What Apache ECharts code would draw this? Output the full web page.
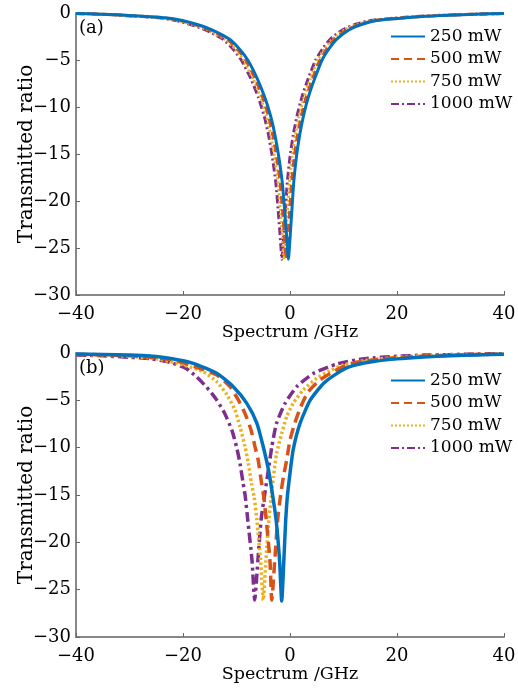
<!DOCTYPE html>
<html>
<head>
<meta charset="utf-8">
<script src="https://cdn.jsdelivr.net/npm/echarts@6/dist/echarts.min.js"></script>
<style>
  html, body { margin: 0; padding: 0; background: #fff; }
  #chart { width: 518px; height: 689px; }
</style>
</head>
<body>
<div id="chart"></div>
<script>
const powerNames = ['250 mW', '500 mW', '750 mW', '1000 mW']

// (a) spectrum [GHz, dB]
const topP250 = [[-40,-0.05],[-35.3,-0.12],[-29.3,-0.28],[-23.3,-0.5],[-20.1,-0.8],[-17.5,-1.2],[-14.6,-1.8],[-11.3,-2.8],[-9.5,-3.8],[-7.9,-5],[-6.1,-7],[-4.7,-9],[-3.6,-11],[-2.8,-13],[-2.1,-15.3],[-1.45,-18],[-1.0,-21],[-0.6,-24],[-0.3,-26.2],[0.0,-24],[0.35,-21],[0.7,-18],[1.2,-15.3],[1.8,-13],[2.5,-11],[3.4,-9],[4.6,-7],[6.0,-5],[7.3,-3.8],[8.7,-2.8],[11.0,-1.8],[13.5,-1.2],[16.2,-0.8],[19.7,-0.6],[24.7,-0.38],[29.7,-0.24],[34.7,-0.13],[40,-0.05]]
const topP500 = [[-40,-0.05],[-35.5,-0.12],[-29.7,-0.28],[-23.7,-0.5],[-20.5,-0.8],[-17.9,-1.2],[-15.0,-1.8],[-11.7,-2.8],[-9.9,-3.8],[-8.3,-5],[-6.5,-7],[-5.1,-9],[-4.0,-11],[-3.2,-13],[-2.5,-15.3],[-1.85,-18],[-1.4,-21],[-1.0,-24],[-0.7,-26.2],[-0.4,-24],[-0.05,-21],[0.3,-18],[0.8,-15.3],[1.4,-13],[2.1,-11],[3.0,-9],[4.2,-7],[5.6,-5],[6.9,-3.8],[8.3,-2.8],[10.6,-1.8],[13.1,-1.2],[15.8,-0.8],[19.3,-0.6],[24.3,-0.38],[29.3,-0.24],[34.5,-0.13],[40,-0.05]]
const topP750 = [[-40,-0.05],[-35.7,-0.12],[-30.1,-0.28],[-24.1,-0.5],[-20.9,-0.8],[-18.3,-1.2],[-15.4,-1.8],[-12.1,-2.8],[-10.3,-3.8],[-8.7,-5],[-6.9,-7],[-5.5,-9],[-4.4,-11],[-3.6,-13],[-2.9,-15.3],[-2.25,-18],[-1.8,-21],[-1.4,-24],[-1.1,-26.2],[-0.8,-24],[-0.45,-21],[-0.1,-18],[0.4,-15.3],[1.0,-13],[1.7,-11],[2.6,-9],[3.8,-7],[5.2,-5],[6.5,-3.8],[7.9,-2.8],[10.2,-1.8],[12.7,-1.2],[15.4,-0.8],[18.9,-0.6],[23.9,-0.38],[28.9,-0.24],[34.3,-0.13],[40,-0.05]]
const topP1000 = [[-40,-0.05],[-35.9,-0.12],[-30.5,-0.28],[-24.5,-0.5],[-21.3,-0.8],[-18.7,-1.2],[-15.8,-1.8],[-12.5,-2.8],[-10.7,-3.8],[-9.1,-5],[-7.3,-7],[-5.9,-9],[-4.8,-11],[-4.0,-13],[-3.3,-15.3],[-2.65,-18],[-2.2,-21],[-1.8,-24],[-1.5,-26.2],[-1.2,-24],[-0.85,-21],[-0.5,-18],[0.0,-15.3],[0.6,-13],[1.3,-11],[2.2,-9],[3.4,-7],[4.8,-5],[6.1,-3.8],[7.5,-2.8],[9.8,-1.8],[12.3,-1.2],[15.0,-0.8],[18.5,-0.6],[23.5,-0.38],[28.5,-0.24],[34.1,-0.13],[40,-0.05]]

// (b) spectrum [GHz, dB]
const botP250 = [[-40,-0.1],[-35,-0.15],[-30,-0.22],[-26.2,-0.32],[-22,-0.6],[-18.1,-1.09],[-13.7,-2.15],[-10.6,-3.56],[-8.1,-5.3],[-6.2,-7.4],[-5.0,-9.9],[-4.0,-12.4],[-3.2,-15.2],[-2.6,-17.6],[-1.95,-21.9],[-1.55,-26.2],[-1.15,-21.9],[-0.8,-17.6],[-0.5,-15.2],[0.0,-12.7],[0.6,-10.2],[1.9,-7.4],[3.8,-4.96],[6.3,-3.2],[8.8,-2.15],[11.2,-1.44],[15,-0.95],[20,-0.62],[25,-0.42],[30,-0.3],[35,-0.2],[40,-0.14]]
const botP500 = [[-40,-0.12],[-35,-0.2],[-30,-0.3],[-26,-0.45],[-22.4,-0.7],[-18.7,-1.27],[-13.7,-2.32],[-11.2,-3.56],[-9.66,-4.96],[-8.4,-6.4],[-7.3,-8.1],[-6.54,-9.9],[-5.95,-11.3],[-5.3,-13.8],[-4.9,-15.2],[-4.45,-17.6],[-3.75,-21.9],[-3.4,-26.1],[-2.85,-21.9],[-2.3,-17.6],[-1.8,-15.2],[-1.24,-13.1],[-0.62,-11.3],[0.0,-9.2],[0.9,-7.4],[2.0,-5.7],[3.4,-4.1],[5.6,-2.85],[8.1,-1.97],[10.6,-1.27],[14,-0.85],[20,-0.5],[25,-0.35],[30,-0.25],[35,-0.17],[40,-0.12]]
const botP750 = [[-40,-0.15],[-35,-0.22],[-30,-0.35],[-25,-0.6],[-19.9,-1.27],[-16.2,-1.97],[-13.7,-3.03],[-11.8,-4.4],[-10.3,-6.0],[-9.35,-7.8],[-8.4,-9.9],[-7.8,-11.6],[-7.2,-13.8],[-6.7,-15.2],[-6.2,-17.6],[-5.5,-21.9],[-5.0,-26.1],[-4.5,-21.9],[-3.95,-17.6],[-3.5,-15.2],[-3.1,-13.1],[-2.5,-10.6],[-1.55,-8.5],[-0.6,-6.7],[0.6,-5.3],[2.5,-3.9],[5.0,-2.67],[7.5,-1.86],[10.0,-1.27],[14,-0.8],[20,-0.45],[25,-0.3],[30,-0.2],[35,-0.14],[40,-0.1]]
const botP1000 = [[-40,-0.2],[-35,-0.3],[-30,-0.45],[-26.2,-0.6],[-22.4,-1.0],[-19.5,-1.6],[-17.5,-2.5],[-15.6,-3.6],[-13.7,-4.96],[-12.2,-6.4],[-10.9,-8.1],[-10.0,-9.9],[-9.35,-11.65],[-8.75,-13.8],[-8.35,-15.2],[-7.9,-17.6],[-7.1,-21.9],[-6.6,-26.1],[-6.0,-21.9],[-5.4,-17.6],[-4.8,-15.2],[-4.05,-12.4],[-3.4,-9.9],[-2.5,-7.4],[-0.9,-5.3],[1.25,-3.56],[4.4,-2.15],[8.8,-1.16],[14,-0.6],[20,-0.35],[25,-0.22],[30,-0.16],[35,-0.1],[40,-0.07]]

const colors = ['#0072bd', '#d95319', '#edb120', '#7e2f8e']
const dashesTop = ['solid', [8, 5], [2, 2], [8, 3, 2, 3]]
const dashesBot = ['solid', [11, 6], [2.5, 2.5], [10, 4, 3, 4]]
const serif = 'DejaVu Serif'
const minus = v => String(v).replace('-', '\u2212')

const chart = echarts.init(document.getElementById('chart'))

function axisPair(idx) {
  const x = {
    type: 'value', gridIndex: idx, min: -40, max: 40, interval: 20,
    name: 'Spectrum /GHz', nameLocation: 'middle', nameGap: 27,
    nameTextStyle: { fontFamily: serif, fontSize: 17.5, color: '#000' },
    axisLine: { onZero: false, lineStyle: { color: '#888', width: 2 } },
    axisTick: { inside: true, length: 4, lineStyle: { color: '#666' } },
    axisLabel: { fontFamily: serif, fontSize: 18, color: '#000', margin: 10, formatter: minus },
    splitLine: { show: false },
  }
  const y = {
    type: 'value', gridIndex: idx, min: -30, max: 0, interval: 5,
    name: 'Transmitted ratio', nameLocation: 'middle', nameGap: 39, nameRotate: 90,
    nameMoveOverlap: false,
    nameTextStyle: { fontFamily: serif, fontSize: 20, color: '#000' },
    axisLine: { onZero: false, lineStyle: { color: '#888', width: 2 } },
    axisTick: { inside: true, length: 4, lineStyle: { color: '#666' } },
    axisLabel: { fontFamily: serif, fontSize: 18, color: '#000', margin: 5, formatter: minus },
    splitLine: { show: false },
  }
  return [x, y]
}

const [xa, ya] = axisPair(0)
const [xb, yb] = axisPair(1)

function makeSeries(list, idx, dashes, width) {
  return list.map((d, i) => ({
    type: 'line',
    name: powerNames[i],
    xAxisIndex: idx,
    yAxisIndex: idx,
    data: d,
    symbol: 'none',
    smooth: 0.2,
    color: colors[i],
    lineStyle: { width: width, type: dashes[i], color: colors[i] },
    z: 10 - i,
  }))
}

function legendAt(top) {
  return {
    orient: 'vertical', left: 390, top: top, itemWidth: 34, itemHeight: 14, itemGap: 5.5,
    padding: 0, itemStyle: { opacity: 0 },
    textStyle: { fontFamily: serif, fontSize: 17, color: '#000' },
    data: powerNames,
  }
}

chart.setOption({
  animation: false,
  grid: [
    { left: 76, top: 13, width: 428, height: 282, outerBoundsMode: 'none' },
    { left: 76, top: 353, width: 428, height: 284, outerBoundsMode: 'none' },
  ],
  xAxis: [xa, xb],
  yAxis: [ya, yb],
  legend: [legendAt(28), legendAt(372)],
  graphic: [
    { type: 'text', left: 79, top: 19, style: { text: '(a)', fontFamily: serif, fontSize: 18, fill: '#000' } },
    { type: 'text', left: 79, top: 359, style: { text: '(b)', fontFamily: serif, fontSize: 18, fill: '#000' } },
  ],
  series: makeSeries([topP250, topP500, topP750, topP1000], 0, dashesTop, 3)
    .concat(makeSeries([botP250, botP500, botP750, botP1000], 1, dashesBot, 3.5)),
})
</script>
</body>
</html>
